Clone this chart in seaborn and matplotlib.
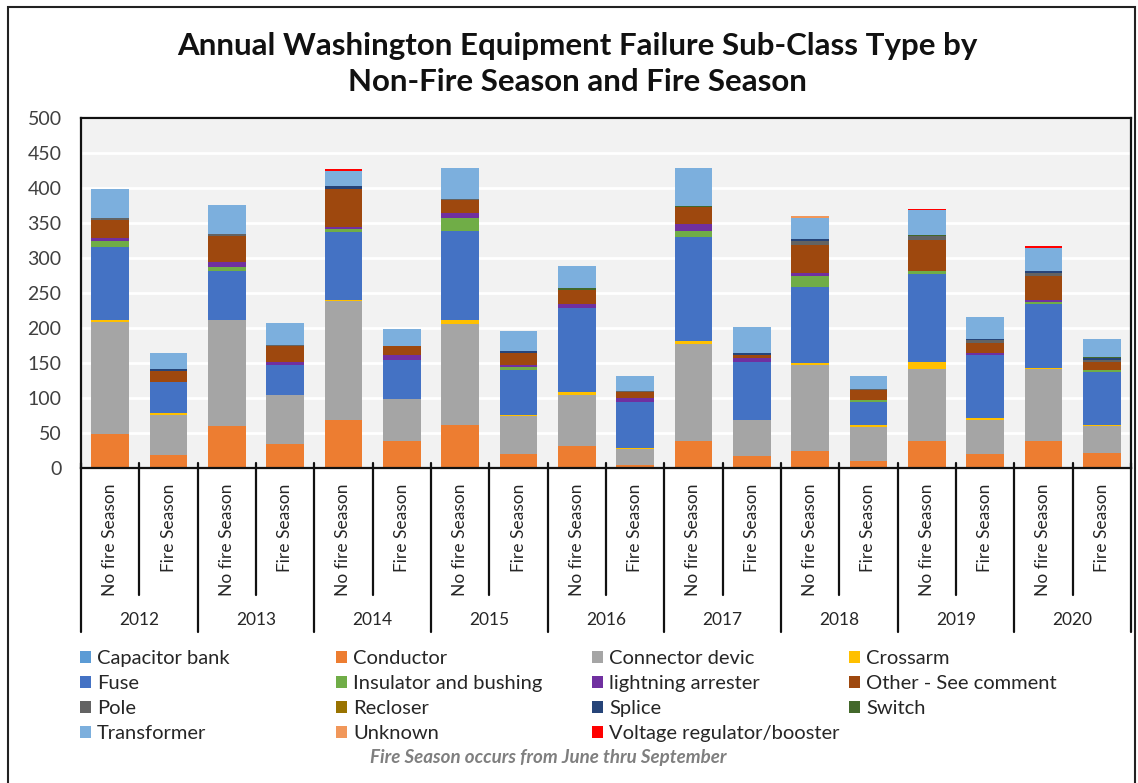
"""Stacked failure counts by sub-class, split by fire / non-fire season."""

import matplotlib

matplotlib.use("Agg")
import matplotlib.pyplot as plt
import pandas as pd
import seaborn as sns
from matplotlib.patches import Patch, Rectangle

years = ["2012", "2013", "2014", "2015", "2016", "2017", "2018", "2019", "2020"]
seasons = ["No fire Season", "Fire Season"]

types = [
    "Capacitor bank", "Conductor", "Connector devic", "Crossarm",
    "Fuse", "Insulator and bushing", "lightning arrester", "Other - See comment",
    "Pole", "Recloser", "Splice", "Switch",
    "Transformer", "Unknown", "Voltage regulator/booster",
]
colors = [
    "#5B9BD5", "#ED7D31", "#A5A5A5", "#FFC000",
    "#4472C4", "#70AD47", "#7030A0", "#9E480E",
    "#636363", "#997300", "#264478", "#43682B",
    "#7CAFDD", "#F1975A", "#FF0000",
]

# one value per bar: 2012 no fire, 2012 fire, 2013 no fire, ... 2020 fire
capacitor_bank = [0, 0, 0, 0, 0, 0, 0, 0, 0, 0, 0, 0, 0, 0, 0, 0, 0, 0]
conductor = [49, 19, 60, 35, 69, 38, 61, 20, 31, 5, 38, 17, 25, 10, 38, 20, 38, 22]
connector = [160, 57, 152, 69, 170, 61, 145, 54, 74, 22, 139, 51, 122, 48, 104, 48, 103, 38]
crossarm = [2, 2, 0, 0, 1, 0, 5, 2, 4, 2, 4, 0, 3, 3, 10, 3, 2, 1]
fuse = [105, 45, 70, 43, 97, 56, 128, 64, 119, 65, 149, 84, 109, 34, 125, 90, 91, 76]
insulator = [8, 0, 5, 0, 5, 0, 18, 5, 1, 0, 9, 0, 15, 2, 5, 0, 3, 3]
lightning = [5, 0, 8, 4, 3, 6, 7, 2, 6, 6, 10, 5, 4, 0, 0, 4, 3, 0]
other = [25, 15, 37, 24, 54, 14, 19, 17, 19, 9, 24, 5, 41, 15, 44, 14, 35, 12]
pole = [3, 0, 2, 1, 0, 0, 1, 0, 0, 1, 0, 0, 6, 1, 6, 4, 4, 3]
recloser = [0, 0, 0, 0, 0, 0, 0, 0, 0, 0, 0, 0, 0, 0, 0, 0, 0, 0]
splice = [0, 3, 0, 0, 4, 0, 0, 3, 0, 0, 0, 3, 2, 0, 0, 2, 3, 2]
switch = [0, 0, 0, 0, 0, 0, 0, 0, 3, 0, 2, 0, 0, 0, 1, 0, 0, 1]
transformer = [42, 23, 42, 31, 22, 23, 45, 29, 31, 21, 53, 36, 30, 18, 35, 31, 33, 26]
unknown = [0, 0, 0, 0, 0, 0, 0, 0, 0, 0, 0, 0, 3, 0, 0, 0, 0, 0]
voltage_reg = [0, 0, 0, 0, 2, 0, 0, 0, 0, 0, 0, 0, 0, 0, 2, 0, 2, 0]

series = [
    capacitor_bank, conductor, connector, crossarm,
    fuse, insulator, lightning, other,
    pole, recloser, splice, switch,
    transformer, unknown, voltage_reg,
]


def build_frame():
    slots = [f"{y} {s}" for y in years for s in seasons]
    rows = []
    for name, values in zip(types, series):
        for slot, v in zip(slots, values):
            rows.append({"slot": slot, "type": name, "count": v})
    return pd.DataFrame(rows), slots


def main() -> None:
    df, slots = build_frame()

    sns.set_theme(style="white")
    plt.rcParams["font.family"] = ["Lato", "DejaVu Sans"]

    W, H = 1138, 783
    fig = plt.figure(figsize=(W / 100, H / 100), dpi=100)
    ax = fig.add_axes([81 / W, 1 - 468 / H, (1131 - 81) / W, 350 / H])
    ax.set_facecolor("#F2F2F2")

    bottom = [0] * len(slots)
    for name, color, values in zip(types, colors, series):
        sub = df[df["type"] == name]
        sns.barplot(
            data=sub, x="slot", y="count", order=slots, color=color,
            saturation=1, width=0.65, errorbar=None, bottom=bottom,
            linewidth=0, ax=ax,
        )
        bottom = [b + v for b, v in zip(bottom, values)]

    ax.set_xlim(-0.5, len(slots) - 0.5)
    ax.set_ylim(0, 500)
    ax.set_yticks(range(0, 501, 50))
    ax.yaxis.grid(True, color="white", linewidth=2)
    ax.set_axisbelow(True)
    ax.tick_params(axis="y", length=0, pad=14, labelsize=14, labelcolor="#404040")
    ax.set_xlabel("")
    ax.set_ylabel("")
    for sp in ax.spines.values():
        sp.set_visible(True)
        sp.set_color("#111111")
        sp.set_linewidth(1.6)

    ax.set_xticks(range(len(slots)))
    ax.set_xticklabels([s for _ in years for s in seasons], rotation=90)
    ax.tick_params(axis="x", length=0, pad=11, labelsize=12.5, labelcolor="#262626")

    # category separators below the axis
    trans = ax.get_xaxis_transform()
    for i in range(len(slots) + 1):
        low = -0.469 if i % 2 == 0 else -0.363
        ax.plot([i - 0.5, i - 0.5], [0.015, low], transform=trans,
                color="#111111", lw=1.6, clip_on=False)
    for k, y in enumerate(years):
        ax.text(2 * k + 0.5, -0.434, y, transform=trans, ha="center",
                va="center", fontsize=12.5, color="#262626")

    fig.text(577 / W, 1 - 64 / H,
             "Annual Washington Equipment Failure Sub-Class Type by\n"
             "Non-Fire Season and Fire Season",
             ha="center", va="center", fontsize=22.5, fontweight="bold",
             linespacing=1.33, color="#111111")

    # legend: four columns, filled row by row
    col_x = [80, 336, 592, 849]
    for j, x0 in enumerate(col_x):
        handles = [Patch(facecolor=colors[i], edgecolor="none")
                   for i in range(j, len(types), 4)]
        labels = types[j::4]
        fig.legend(handles, labels, loc="upper left",
                   bbox_to_anchor=(x0 / W, 1 - 650 / H), frameon=False,
                   fontsize=14.5, handlelength=0.55, handleheight=0.55,
                   handletextpad=0.3, labelspacing=0.4, borderpad=0,
                   borderaxespad=0, labelcolor="#262626")

    fig.text(548 / W, 1 - 758 / H, "Fire Season occurs from June thru September",
             ha="center", va="center", fontsize=13.5, style="italic",
             fontweight="bold", color="#7F7F7F")

    fig.patches.append(Rectangle((8 / W, -0.01), (1135 - 8) / W, 1 - 7 / H + 0.01,
                                 transform=fig.transFigure, fill=False,
                                 edgecolor="#222222", lw=1.5))

    fig.savefig("out.png", dpi=100)
    plt.close(fig)


if __name__ == "__main__":
    main()
